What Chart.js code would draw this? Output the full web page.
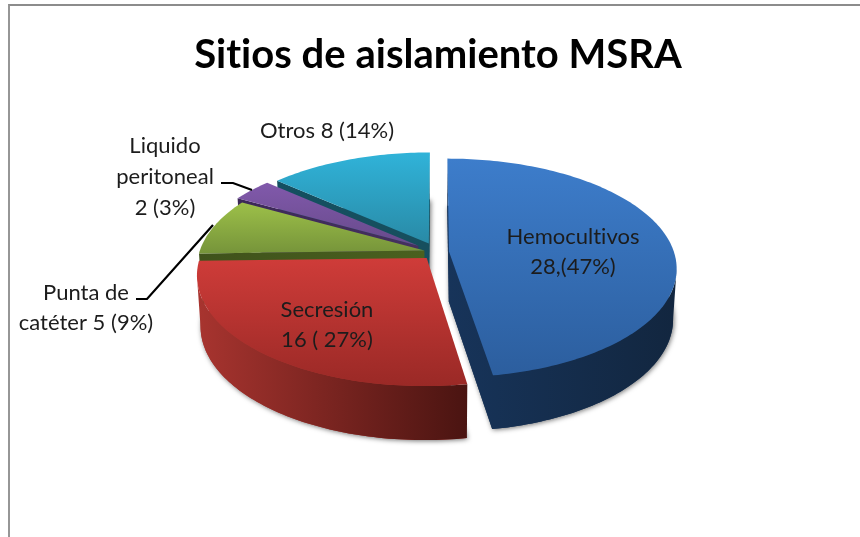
<!DOCTYPE html>
<html lang="es">
<head>
<meta charset="utf-8">
<title>Sitios de aislamiento MSRA</title>
<script src="https://cdn.jsdelivr.net/npm/chart.js@4/dist/chart.umd.min.js"></script>
<style>
    html, body { margin: 0; padding: 0; background: #fff; overflow: hidden; }
    #wrap { position: relative; width: 860px; height: 537px; }
    #frame { position: absolute; left: 8px; top: 4px; right: 0; bottom: 0; border-left: 2px solid #969696; border-top: 2px solid #8c8c8c; }
    canvas { position: absolute; left: 0; top: 0; filter: blur(0.45px); }
</style>
</head>
<body>
<div id="wrap">
    <div id="frame"></div>
    <canvas id="chart" width="860" height="537"></canvas>
</div>
<script>
const chartTitle = 'Sitios de aislamiento MSRA';
const categories = ['Hemocultivos', 'Secresión', 'Punta de catéter', 'Liquido peritoneal', 'Otros'];
const counts = [28, 16, 5, 2, 8];
const explodeOffsets = [12, 16, 13, 23, 20];

const topColors = [['#3d7dcb', '#2c5e9e'], ['#cf3c39', '#9a2926'], ['#9dc049', '#76943a'], ['#8159ab', '#674a8b'], ['#30b3d9', '#298aa6']];
const wallColors = [['#17345a', '#12263f'], ['#a8342f', '#4a1411'], ['#3f521b', '#4a601f'], ['#3c2858', '#45305f'], ['#144f60', '#174f5e']];

// text blocks, centred on x with one y per line
const labelBlocks = [
    { lines: ['Hemocultivos', '28,(47%)'], x: 573, y: [237, 267] },
    { lines: ['Secresión', '16 ( 27%)'], x: 327, y: [310, 340] },
    { lines: ['Punta de', 'catéter 5 (9%)'], x: 86, y: [293, 323] },
    { lines: ['Liquido', 'peritoneal', '2 (3%)'], x: 165, y: [146, 177, 208] },
    { lines: ['Otros 8 (14%)'], x: 327, y: [131] }
];
const leaderLines = [
    [[221, 183], [233, 183], [252, 190]],
    [[136, 299], [147, 299], [213, 225]]
];

// tilted disc: far side smaller than near side
const PIE_SHIFT_X = -1;
const PIE_Y = 252;
const SQUASH = 107 / 225;
const PERSPECTIVE = 0.15;
const DEPTH = 50;

function project(arc, px, py, isBottom) {
    const u = px / arc.outerRadius;
    const v = py / arc.outerRadius;
    const w = 1 - PERSPECTIVE * v;
    const ry = arc.outerRadius * SQUASH;
    const cx = arc.x + PIE_SHIFT_X;
    if (isBottom) {
        return [cx + arc.outerRadius * 0.985 * u / w, PIE_Y + DEPTH + ry * 1.03 * v / w];
    }
    return [cx + arc.outerRadius * u / w, PIE_Y + ry * v / w];
}

function slicePoints(arc, isBottom) {
    const mid = (arc.startAngle + arc.endAngle) / 2;
    const ox = Math.cos(mid) * arc.options.offset;
    const oy = Math.sin(mid) * arc.options.offset;
    const points = [project(arc, ox, oy, isBottom)];
    const steps = Math.ceil((arc.endAngle - arc.startAngle) / 0.02);
    for (let i = 0; i <= steps; i++) {
        const a = arc.startAngle + (arc.endAngle - arc.startAngle) * i / steps;
        points.push(project(arc, ox + arc.outerRadius * Math.cos(a), oy + arc.outerRadius * Math.sin(a), isBottom));
    }
    return points;
}

function fillPolygon(ctx, points) {
    ctx.beginPath();
    points.forEach((p, i) => i ? ctx.lineTo(p[0], p[1]) : ctx.moveTo(p[0], p[1]));
    ctx.closePath();
    ctx.fill();
}

function drawSliceBody(ctx, arc, index) {
    const top = slicePoints(arc, false);
    const bottom = slicePoints(arc, true);
    const xs = top.map(p => p[0]);
    const ys = top.map(p => p[1]);

    const wall = ctx.createLinearGradient(Math.min(...xs), 0, Math.max(...xs), 0);
    wall.addColorStop(0, wallColors[index][0]);
    wall.addColorStop(1, wallColors[index][1]);
    ctx.fillStyle = wall;

    // only walls whose edge runs leftwards face the viewer, joined into runs
    let run = null;
    for (let i = 0; i < top.length; i++) {
        const j = (i + 1) % top.length;
        if (top[j][0] - top[i][0] < 0) {
            if (!run) run = { topPts: [top[i]], bottomPts: [bottom[i]] };
            run.topPts.push(top[j]);
            run.bottomPts.push(bottom[j]);
        } else if (run) {
            fillPolygon(ctx, run.topPts.concat(run.bottomPts.reverse()));
            run = null;
        }
    }
    if (run) fillPolygon(ctx, run.topPts.concat(run.bottomPts.reverse()));

    const face = ctx.createLinearGradient(0, Math.min(...ys), 0, Math.max(...ys));
    face.addColorStop(0, topColors[index][0]);
    face.addColorStop(1, topColors[index][1]);
    ctx.fillStyle = face;
    fillPolygon(ctx, top);
}

const pie3d = {
    id: 'pie3d',
    beforeDraw(chart) {
        // stops Lato joining "ti" into a ligature
        chart.ctx.letterSpacing = '0.01px';
    },
    // replaces the flat arcs, geometry comes from the arc elements
    beforeDatasetsDraw(chart) {
        const ctx = chart.ctx;
        const arcs = chart.getDatasetMeta(0).data;
        ctx.save();

        arcs.forEach((arc, i) => {
            ctx.save();
            ctx.shadowColor = 'rgba(0,0,0,0.55)';
            ctx.shadowBlur = 5;
            ctx.shadowOffsetX = 1;
            ctx.shadowOffsetY = 1;
            ctx.fillStyle = wallColors[i][0];
            fillPolygon(ctx, slicePoints(arc, true));
            ctx.restore();
        });

        // back to front
        [4, 3, 2, 0, 1].forEach(i => drawSliceBody(ctx, arcs[i], i));
        ctx.restore();
        return false;
    },
    afterDraw(chart) {
        const ctx = chart.ctx;
        ctx.save();
        ctx.strokeStyle = '#000';
        ctx.lineWidth = 2.2;
        leaderLines.forEach(line => {
            ctx.beginPath();
            line.forEach((p, i) => i ? ctx.lineTo(p[0], p[1]) : ctx.moveTo(p[0], p[1]));
            ctx.stroke();
        });
        ctx.fillStyle = '#1c1c1c';
        ctx.font = '22px Lato';
        ctx.textAlign = 'center';
        ctx.textBaseline = 'middle';
        labelBlocks.forEach(block => {
            block.lines.forEach((text, i) => ctx.fillText(text, block.x, block.y[i]));
        });
        ctx.restore();
    }
};

new Chart(document.getElementById('chart'), {
    type: 'pie',
    data: {
        labels: categories,
        datasets: [{
            data: counts,
            offset: explodeOffsets,
            backgroundColor: topColors.map(c => c[0]),
            borderWidth: 0
        }]
    },
    options: {
        responsive: false,
        animation: false,
        radius: 225,
        layout: { padding: { left: 16 } },
        plugins: {
            legend: { display: false },
            tooltip: { enabled: false },
            title: {
                display: true,
                text: chartTitle,
                color: '#000',
                font: { family: 'Lato', size: 40, weight: 'bold' },
                padding: { top: 31, bottom: 0 }
            }
        }
    },
    plugins: [pie3d]
});
</script>
</body>
</html>
